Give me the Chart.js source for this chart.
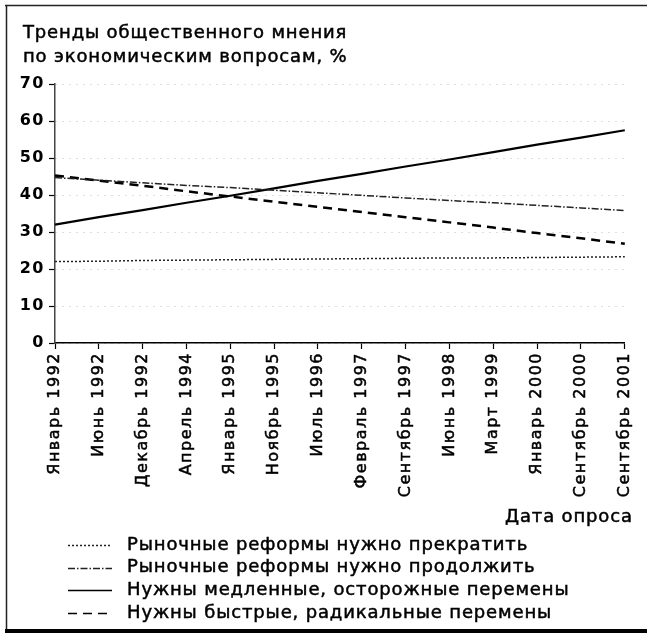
<!DOCTYPE html>
<html><head><meta charset="utf-8">
<script src="https://cdn.jsdelivr.net/npm/chart.js@4/dist/chart.umd.min.js"></script>
<style>html,body{margin:0;padding:0;background:#fff;}#c{display:block;}</style>
</head><body>
<canvas id="c" width="647" height="638"></canvas>
<script>
// ---- data ----
const categories = ['Январь 1992','Июнь 1992','Декабрь 1992','Апрель 1994','Январь 1995','Ноябрь 1995','Июль 1996','Февраль 1997','Сентябрь 1997','Июнь 1998','Март 1999','Январь 2000','Сентябрь 2000','Сентябрь 2001'];
const stopReforms     = [22.0, 22.1, 22.3, 22.4, 22.5, 22.6, 22.7, 22.8, 22.9, 23.0, 23.0, 23.1, 23.2, 23.3];
const continueReforms = [44.7, 44.0, 43.3, 42.6, 42.0, 41.3, 40.6, 39.9, 39.2, 38.5, 37.9, 37.2, 36.5, 35.8];
const slowChanges     = [32.0, 34.0, 35.9, 37.9, 39.8, 41.8, 43.8, 45.7, 47.7, 49.6, 51.6, 53.6, 55.5, 57.5];
const fastChanges     = [45.3, 43.9, 42.5, 41.0, 39.6, 38.2, 36.8, 35.4, 34.0, 32.6, 31.2, 29.7, 28.3, 26.8];
const seriesNames = ['Рыночные реформы нужно прекратить','Рыночные реформы нужно продолжить','Нужны медленные, осторожные перемены','Нужны быстрые, радикальные перемены'];
const yTicks = [0, 10, 20, 30, 40, 50, 60, 70];
const titleLines = ['Тренды общественного мнения', 'по экономическим вопросам, %'];
const xAxisTitle = 'Дата опроса';

const FAMILY = "'DejaVu Sans', sans-serif";

const spacingPlugin = {
  id: 'spacing',
  beforeLayout(chart){ chart.ctx.letterSpacing = '1.5px'; },
  beforeDraw(chart){ chart.ctx.letterSpacing = '1.5px'; }
};

function drawHeavyText(ctx, text, x, y){
  ctx.strokeText(text, x, y);
  ctx.fillText(text, x, y);
}

const decorPlugin = {
  id: 'decor',
  afterDraw(chart){
    const ctx = chart.ctx;
    ctx.save();
    ctx.letterSpacing = '0px';
    ctx.setLineDash([]);
    // frame
    ctx.strokeStyle = '#222'; ctx.lineWidth = 1.5;
    ctx.beginPath(); ctx.moveTo(5, 5.5); ctx.lineTo(647, 5.5); ctx.stroke();
    ctx.beginPath(); ctx.moveTo(6.5, 5); ctx.lineTo(6.5, 630); ctx.stroke();
    ctx.fillStyle = '#000'; ctx.fillRect(5, 629, 642, 4);
    // text sizing
    const fs = 18;
    ctx.font = fs + 'px ' + FAMILY;
    const w0 = ctx.measureText(seriesNames[0]).width;
    const ls = Math.max(0, (401 - w0) / seriesNames[0].length);
    ctx.letterSpacing = ls.toFixed(2) + 'px';
    ctx.fillStyle = '#000';
    ctx.strokeStyle = '#000';
    ctx.lineWidth = 0.5;
    ctx.textBaseline = 'middle';
    ctx.textAlign = 'left';
    titleLines.forEach((t, i) => drawHeavyText(ctx, t, 23, 33 + 24 * i));
    ctx.textAlign = 'right';
    drawHeavyText(ctx, xAxisTitle, 632 + ls, 517);
    // legend
    chart.data.datasets.forEach((ds, i) => {
      const y = 545 + i * 22.7;
      ctx.save();
      ctx.setLineDash(ds.borderDash || []);
      ctx.lineWidth = Math.min(ds.borderWidth, 1.5);
      ctx.strokeStyle = ds.borderColor;
      ctx.beginPath(); ctx.moveTo(68, Math.round(y) + 0.5); ctx.lineTo(112, Math.round(y) + 0.5); ctx.stroke();
      ctx.restore();
      ctx.textAlign = 'left';
      drawHeavyText(ctx, ds.label, 127, y);
    });
    ctx.restore();
  }
};

new Chart(document.getElementById('c'), {
  type: 'line',
  data: {
    labels: categories,
    datasets: [
      { label: seriesNames[0], data: stopReforms, borderColor: '#222', borderWidth: 1.5, borderDash: [2, 2] },
      { label: seriesNames[1], data: continueReforms, borderColor: '#222', borderWidth: 1.5, borderDash: [7, 2, 1.5, 2] },
      { label: seriesNames[2], data: slowChanges, borderColor: '#000', borderWidth: 2.2 },
      { label: seriesNames[3], data: fastChanges, borderColor: '#000', borderWidth: 2.5, borderDash: [9, 6] }
    ]
  },
  options: {
    responsive: false, animation: false, devicePixelRatio: 1,
    elements: { point: { radius: 0 }, line: { tension: 0, fill: false } },
    layout: { padding: { left: 0, top: 84, right: 22, bottom: 0 } },
    plugins: { legend: { display: false }, title: { display: false }, tooltip: { enabled: false } },
    scales: {
      x: {
        type: 'category', offset: false,
        grid: { drawOnChartArea: false, tickLength: 6, tickColor: '#000', tickWidth: 1.2 },
        border: { color: '#000', width: 1.5 },
        ticks: { autoSkip: false, minRotation: 90, maxRotation: 90, color: '#000', textStrokeColor: '#000', textStrokeWidth: 0.5, font: { family: FAMILY, size: 16 }, padding: 3 },
        afterFit(s){ s.height = 638 - 343; }
      },
      y: {
        min: 0, max: 70,
        afterBuildTicks(s){ s.ticks = yTicks.map(v => ({ value: v })); },
        grid: { color: '#bbbbbb', lineWidth: 1, tickLength: 6, tickColor: '#000', tickWidth: 1.2 },
        border: { color: '#444', width: 1.5, dash: [1, 6] },
        ticks: { color: '#000', font: { family: FAMILY, size: 16, weight: 'bold' }, padding: 4 },
        afterFit(s){ s.width = 55; }
      }
    }
  },
  plugins: [spacingPlugin, decorPlugin]
});
</script>
</body></html>
